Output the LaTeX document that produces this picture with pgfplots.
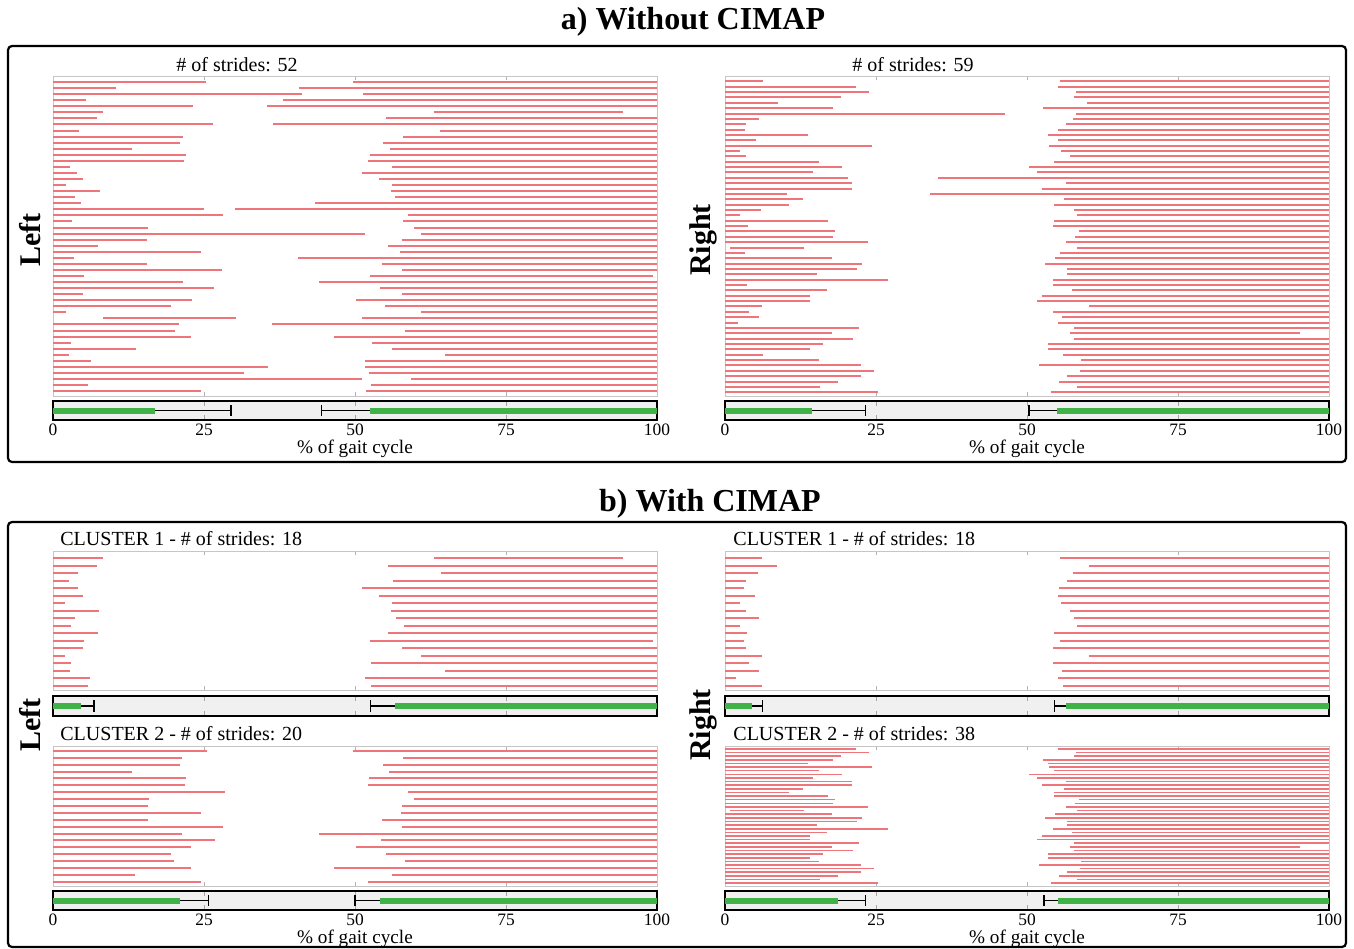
\documentclass[border=0pt]{standalone}
\usepackage{pgfplots}
\pgfplotsset{compat=1.18}
\usepackage{pgfplotstable}
\usepackage{fontspec}
\setmainfont{Liberation Serif}

\definecolor{strideRed}{RGB}{238,118,122}
\definecolor{barGreen}{RGB}{64,178,72}
\definecolor{barFill}{RGB}{240,240,240}

% each stride: row, first segment (a1-b1), second segment (a2-b2), in % of gait cycle
\pgfplotstableread{
r a1 b1 a2 b2
1 0 25.4 49.6 100
2 0 10.5 40.8 100
3 0 41.2 51.4 100
4 0 5.5 38.0 100
5 0 23.2 35.4 100
6 0 8.3 63.0 94.3
7 0 7.3 55.2 100
8 0 26.5 36.5 100
9 0 4.3 64.1 100
10 0 21.5 57.9 100
11 0 21.0 54.7 100
12 0 13.0 55.8 100
13 0 22.1 52.5 100
14 0 21.7 52.2 100
15 0 2.8 56.2 100
16 0 4.0 51.1 100
17 0 5.0 54.0 100
18 0 2.2 56.1 100
19 0 7.8 56.0 100
20 0 3.6 56.6 100
21 0 4.7 43.4 100
22 0 25.0 30.1 100
23 0 28.2 58.8 100
24 0 3.1 58.0 100
25 0 15.8 59.8 100
26 0 51.7 61.0 100
27 0 15.6 57.7 100
28 0 7.5 55.5 100
29 0 24.5 57.5 100
30 0 3.4 40.6 100
31 0 15.6 54.4 100
32 0 28.0 57.8 100
33 0 5.2 52.5 99.4
34 0 21.5 44.0 100
35 0 26.7 54.1 100
36 0 5.0 57.7 100
37 0 23.0 50.1 100
38 0 19.5 54.9 100
39 0 2.2 61.0 100
40 8.3 30.3 51.1 100
41 0 20.9 36.2 100
42 0 20.2 58.2 100
43 0 22.8 46.5 100
44 0 3.0 52.8 100
45 0 13.7 56.2 100
46 0 2.7 64.9 100
47 0 6.3 51.7 100
48 0 35.6 51.7 100
49 0 31.6 52.4 100
50 0 51.1 59.2 100
51 0 5.8 52.6 100
52 0 24.5 51.8 100
}\segTL

\pgfplotstableread{
r a1 b1 a2 b2
1 0 6.3 55.5 100
2 0 21.7 55.2 100
3 0 23.9 58.1 100
4 0 19.2 57.8 100
5 0 8.7 60.0 100
6 0 17.9 52.7 100
7 0 46.4 58.1 100
8 0 5.6 57.6 100
9 0 3.5 56.5 100
10 0 3.3 55.2 100
11 0 13.7 53.4 100
12 0 5.2 55.2 100
13 0 24.3 53.7 100
14 0 2.5 55.7 100
15 0 3.5 57.1 100
16 0 15.5 54.5 100
17 0 19.3 50.4 100
18 0 14.5 51.6 100
19 0 20.4 35.2 100
20 0 21.0 56.4 100
21 0 21.0 52.5 100
22 0 10.3 33.9 100
23 0 12.9 56.2 100
24 0 10.6 54.4 100
25 0 5.9 57.8 100
26 0 2.5 58.2 100
27 0 17.1 54.4 100
28 0 3.8 54.3 100
29 0 18.2 58.6 100
30 0 17.9 57.9 100
31 0 23.7 56.5 100
32 0.8 13.1 58.2 100
33 0 3.3 55.5 100
34 0 17.7 54.7 100
35 0 22.6 53.0 100
36 0 21.8 56.6 100
37 0 15.2 56.6 100
38 0 27.0 54.3 100
39 0 3.6 54.3 100
40 0 16.9 57.5 100
41 0 14.1 52.4 100
42 0 14.1 51.7 100
43 0 6.2 60.2 100
44 0 4.0 54.3 100
45 0 5.7 55.8 100
46 0 2.2 55.2 100
47 0 22.2 57.8 100
48 0 17.7 57.1 95.2
49 0 21.2 57.8 100
50 0 16.2 53.4 100
51 0 14.0 53.4 100
52 0 6.3 56.0 100
53 0 15.6 58.9 100
54 0 22.5 52.0 100
55 0 24.7 58.7 100
56 0 22.5 56.7 100
57 0 18.7 55.3 100
58 0 15.7 58.2 100
59 0 25.3 53.9 100
}\segTR

\pgfplotstableread{
r a1 b1 a2 b2
1 0 8.2 63.0 94.3
2 0 7.3 55.4 100
3 0 4.1 64.2 100
4 0 2.7 56.3 100
5 0 4.1 51.2 100
6 0 4.9 53.9 100
7 0 2.0 56.1 100
8 0 7.6 55.9 100
9 0 3.6 56.8 100
10 0 3.0 58.1 100
11 0 7.5 55.4 100
12 0 5.1 52.5 99.3
13 0 5.0 57.8 100
14 0 2.0 61.0 100
15 0 3.0 52.7 100
16 0 2.8 64.9 100
17 0 6.2 51.7 100
18 0 5.8 52.6 100
}\segCoL

\pgfplotstableread{
r a1 b1 a2 b2
1 0 25.5 49.6 100
2 0 21.4 58.0 100
3 0 21.0 54.7 100
4 0 13.0 55.7 100
5 0 22.1 52.4 100
6 0 21.8 52.2 100
7 0 28.4 58.8 100
8 0 15.9 59.8 100
9 0 15.8 57.8 100
10 0 24.5 57.6 100
11 0 15.8 54.5 100
12 0 28.1 57.8 100
13 0 21.4 44.1 100
14 0 26.9 54.3 100
15 0 22.9 50.1 100
16 0 19.5 55.1 100
17 0 20.1 58.3 100
18 0 22.8 46.6 100
19 0 13.5 56.2 100
20 0 24.5 52.2 100
}\segCtL

\pgfplotstableread{
r a1 b1 a2 b2
1 0 6.2 55.5 100
2 0 8.6 60.2 100
3 0 5.5 57.6 100
4 0 3.5 56.6 100
5 0 3.1 55.3 100
6 0 5.0 55.2 100
7 0 2.4 55.7 100
8 0 3.4 57.1 100
9 0 5.7 57.7 100
10 0 2.4 58.2 100
11 0 3.7 54.5 100
12 0 3.2 55.5 100
13 0 3.5 54.3 100
14 0 6.1 60.2 100
15 0 4.0 54.3 100
16 0 5.7 55.8 100
17 0 1.9 55.2 100
18 0 6.2 56.0 100
}\segCoR

\pgfplotstableread{
r a1 b1 a2 b2
1 0 21.7 55.2 100
2 0 23.9 58.1 100
3 0 19.2 57.8 100
4 0 17.9 52.7 100
5 0 13.7 53.4 100
6 0 24.3 53.7 100
7 0 15.5 54.5 100
8 0 19.3 50.4 100
9 0 14.5 51.6 100
10 0 21.0 56.4 100
11 0 21.0 52.5 100
12 0 12.9 56.2 100
13 0 10.6 54.4 100
14 0 17.1 54.4 100
15 0 18.2 58.6 100
16 0 17.9 57.9 100
17 0 23.7 56.5 100
18 0.8 13.1 58.2 100
19 0 17.7 54.7 100
20 0 22.6 53.0 100
21 0 21.8 56.6 100
22 0 15.2 56.6 100
23 0 27.0 54.3 100
24 0 16.9 57.5 100
25 0 14.1 52.4 100
26 0 14.1 51.7 100
27 0 22.2 57.8 100
28 0 17.7 57.1 95.2
29 0 21.2 57.8 100
30 0 16.2 53.4 100
31 0 14.0 53.4 100
32 0 15.6 58.9 100
33 0 22.5 52.0 100
34 0 24.7 58.7 100
35 0 22.5 56.7 100
36 0 18.7 55.3 100
37 0 15.7 58.2 100
38 0 25.3 53.9 100
}\segCtR

\pgfplotsset{
  stride axis/.style={scale only axis, width=302pt, xmin=0, xmax=100,
    y dir=reverse, axis line style={gray!45}, xtick={25,50,75},
    xticklabels={}, ytick=\empty, tick style={gray!60, line width=0.5pt},
    major tick length=2pt, tick align=inside, xtick pos=both,
    anchor=south west},
  bar axis/.style={scale only axis, width=302pt, xmin=0, xmax=100,
    ymin=0, ymax=1, axis line style={black, line width=1pt},
    axis background/.style={fill=barFill}, xtick={0,25,50,75,100},
    ytick=\empty, tick style={gray!70, line width=0.5pt},
    major tick length=2.5pt, tick align=inside, xtick pos=both,
    anchor=south west,
    ticklabel style={font=\fontsize{8.7}{10}\selectfont, inner sep=2pt},
    /pgf/number format/assume math mode=true,
    xlabel style={font=\fontsize{9.6}{11}\selectfont, inner sep=0pt, yshift=0.5pt}},
  seg1/.style={strideRed, line width=1pt, no markers,
    quiver={u=\thisrow{b1}-\thisrow{a1}, v=0}},
  seg2/.style={strideRed, line width=1pt, no markers,
    quiver={u=\thisrow{b2}-\thisrow{a2}, v=0}},
}

% mean activation bar: green to #1, whisker to #2 | whisker from #3, green from #4
\newcommand\gaitbar[4]{%
  \addplot[barGreen, line width=3pt] coordinates {(0,0.5) (#1,0.5)};
  \addplot[black, line width=0.7pt] coordinates {(#1,0.5) (#2,0.5)};
  \addplot[black, line width=0.7pt] coordinates {(#2,0.22) (#2,0.78)};
  \addplot[black, line width=0.7pt] coordinates {(#3,0.22) (#3,0.78)};
  \addplot[black, line width=0.7pt] coordinates {(#3,0.5) (#4,0.5)};
  \addplot[barGreen, line width=3pt] coordinates {(#4,0.5) (100,0.5)};
}

\begin{document}
\begin{tikzpicture}
\begin{scope}[x=0.5pt, y=-0.5pt]
  \path[use as bounding box] (0,0) rectangle (1354,948);
  \draw[line width=1.1pt, rounded corners=2pt] (8,46) rectangle (1346,462);
  \draw[line width=1.1pt, rounded corners=2pt] (8,522) rectangle (1346,947);
  \node[font=\bfseries\fontsize{16}{19}\selectfont] at (693,22) {a) Without CIMAP};
  \node[font=\bfseries\fontsize{16}{19}\selectfont] at (710,504) {b) With CIMAP};
  \node[font=\fontsize{10}{12}\selectfont] at (237,65) {\# of strides: 52};
  \node[font=\fontsize{10}{12}\selectfont] at (913,65) {\# of strides: 59};
  \node[font=\fontsize{10}{12}\selectfont, anchor=west, inner sep=0pt] at (60,539) {CLUSTER 1 - \# of strides: 18};
  \node[font=\fontsize{10}{12}\selectfont, anchor=west, inner sep=0pt] at (733,539) {CLUSTER 1 - \# of strides: 18};
  \node[font=\fontsize{10}{12}\selectfont, anchor=west, inner sep=0pt] at (60,734) {CLUSTER 2 - \# of strides: 20};
  \node[font=\fontsize{10}{12}\selectfont, anchor=west, inner sep=0pt] at (733,734) {CLUSTER 2 - \# of strides: 38};
  \node[rotate=90, font=\bfseries\fontsize{15}{18}\selectfont] at (30,240) {Left};
  \node[rotate=90, font=\bfseries\fontsize{15}{18}\selectfont] at (703,240) {Right};
  \node[rotate=90, font=\bfseries\fontsize{15}{18}\selectfont] at (30,725) {Left};
  \node[rotate=90, font=\bfseries\fontsize{15}{18}\selectfont] at (703,725) {Right};
\end{scope}

% ---------- a) without CIMAP ----------
\begin{axis}[stride axis, at={(26.5pt,-198pt)}, height=160pt, ymin=0, ymax=52.8]
  \addplot[seg1] table[x=a1, y=r] {\segTL};
  \addplot[seg2] table[x=a2, y=r] {\segTL};
\end{axis}
\begin{axis}[bar axis, at={(26.5pt,-210pt)}, height=9.5pt, xlabel={\% of gait cycle}]
  \gaitbar{16.9}{29.5}{44.5}{52.5}
\end{axis}

\begin{axis}[stride axis, at={(362.5pt,-198pt)}, height=160pt, ymin=0, ymax=59.7]
  \addplot[seg1] table[x=a1, y=r] {\segTR};
  \addplot[seg2] table[x=a2, y=r] {\segTR};
\end{axis}
\begin{axis}[bar axis, at={(362.5pt,-210pt)}, height=9.5pt, xlabel={\% of gait cycle}]
  \gaitbar{14.4}{23.3}{50.3}{55.0}
\end{axis}

% ---------- b) with CIMAP ----------
\begin{axis}[stride axis, at={(26.5pt,-345pt)}, height=69.5pt, ymin=0, ymax=18.6]
  \addplot[seg1] table[x=a1, y=r] {\segCoL};
  \addplot[seg2] table[x=a2, y=r] {\segCoL};
\end{axis}
\begin{axis}[bar axis, at={(26.5pt,-358pt)}, height=10pt, xticklabels={}]
  \gaitbar{4.7}{6.8}{52.6}{56.6}
\end{axis}

\begin{axis}[stride axis, at={(26.5pt,-443pt)}, height=70pt, ymin=0.3, ymax=20.6]
  \addplot[seg1] table[x=a1, y=r] {\segCtL};
  \addplot[seg2] table[x=a2, y=r] {\segCtL};
\end{axis}
\begin{axis}[bar axis, at={(26.5pt,-455pt)}, height=9.5pt, xlabel={\% of gait cycle}]
  \gaitbar{21.1}{25.7}{50.0}{54.2}
\end{axis}

\begin{axis}[stride axis, at={(362.5pt,-345pt)}, height=69.5pt, ymin=0, ymax=18.6]
  \addplot[seg1] table[x=a1, y=r] {\segCoR};
  \addplot[seg2] table[x=a2, y=r] {\segCoR};
\end{axis}
\begin{axis}[bar axis, at={(362.5pt,-358pt)}, height=10pt, xticklabels={}]
  \gaitbar{4.5}{6.2}{54.6}{56.5}
\end{axis}

\begin{axis}[stride axis, at={(362.5pt,-443pt)}, height=70pt, ymin=0.2, ymax=38.8]
  \addplot[seg1, line width=0.8pt] table[x=a1, y=r] {\segCtR};
  \addplot[seg2, line width=0.8pt] table[x=a2, y=r] {\segCtR};
\end{axis}
\begin{axis}[bar axis, at={(362.5pt,-455pt)}, height=9.5pt, xlabel={\% of gait cycle}]
  \gaitbar{18.7}{23.3}{52.8}{55.1}
\end{axis}
\end{tikzpicture}
\end{document}
